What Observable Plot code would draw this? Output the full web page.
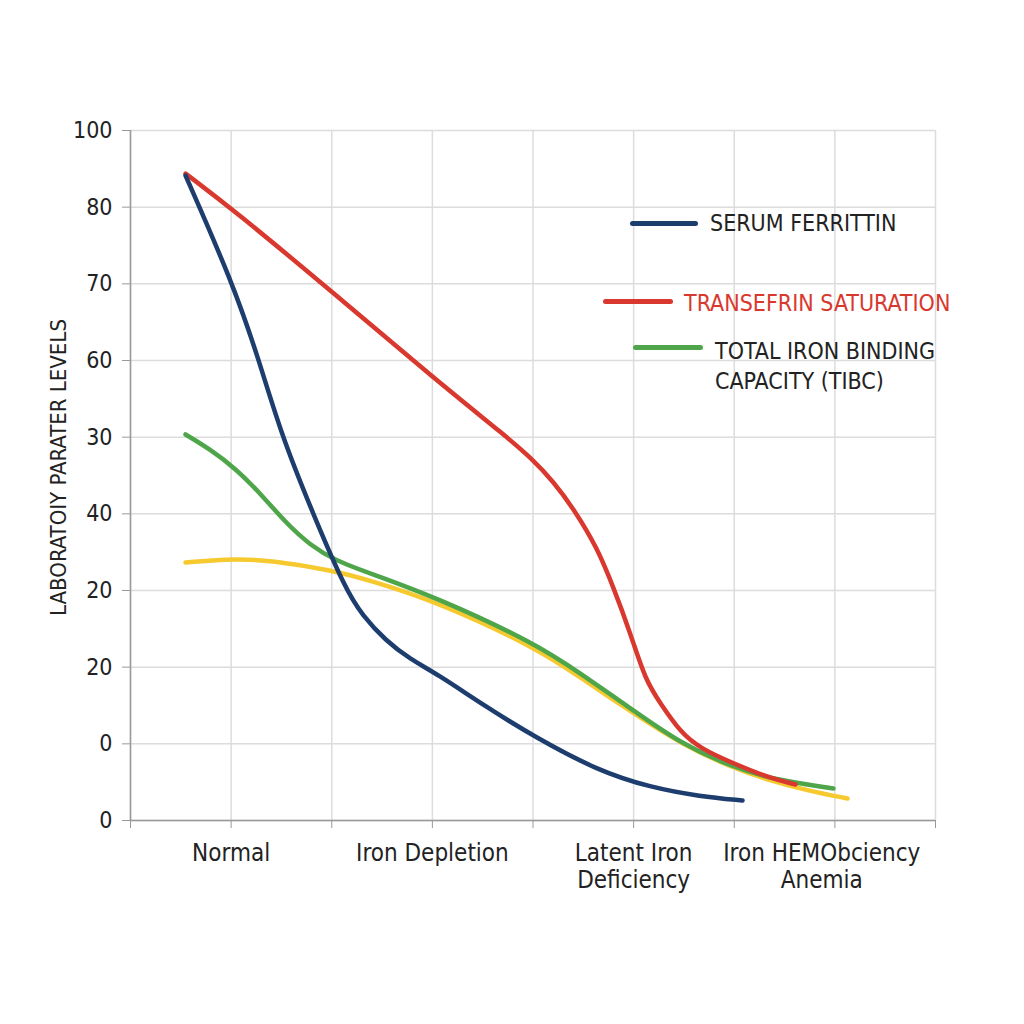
<!DOCTYPE html>
<html><head><meta charset="utf-8">
<script src="https://cdn.jsdelivr.net/npm/d3@7"></script>
<script src="https://cdn.jsdelivr.net/npm/@observablehq/plot@0.6"></script>
<style>
body{margin:0;background:#fff;}
#wrap{position:relative;width:1024px;height:1024px;font-family:"Liberation Sans Narrow","DejaVu Sans Condensed",sans-serif;color:#222;}
#wrap svg{position:absolute;left:0;top:0;}
.sw{position:absolute;height:5px;border-radius:3px;}
.lt{position:absolute;font-size:23px;line-height:30px;white-space:nowrap;}
</style></head><body><div id="wrap"></div>
<script>
// y tick labels (as printed, at evenly spaced positions 0..9)
const yTickLabels = ["0","0","20","20","40","30","60","70","80","100"];
const yTickPos = [0,1,2,3,4,5,6,7,8,9];
const xTickPos = [0,1,2,3,4,5,6,7,8];
const xCategories = ["Normal","Iron Depletion","Latent Iron\nDeficiency","Iron HEMObciency\nAnemia"];
const xCategoryPos = [1,3,5,6.87];

const seriesNames = ["SERUM FERRITTIN","TRANSEFRIN SATURATION","TOTAL IRON BINDING\nCAPACITY (TIBC)","(unlabeled)"];
const seriesColors = ["#1c3d6e","#d9382f","#4fa64a","#f6c92f"];

const ferritinX = [0.547,1.014,1.272,1.501,1.809,2.137,2.306,2.534,2.783,3.041,3.528,4.025,4.641,5.168,5.665,6.082];
const ferritinY = [8.413,7.017,6.026,5.022,4.017,3.013,2.674,2.348,2.100,1.917,1.487,1.083,0.652,0.430,0.313,0.261];

const saturationX = [0.547,1.043,1.988,3.041,3.747,3.975,4.204,4.422,4.641,4.800,4.969,5.118,5.267,5.466,5.665,5.993,6.360,6.609];
const saturationY = [8.439,7.944,6.913,5.739,4.996,4.735,4.422,4.030,3.548,3.039,2.439,1.826,1.526,1.148,0.939,0.743,0.548,0.470];

const tibcX = [0.547,0.795,1.043,1.292,1.540,1.789,2.037,2.385,3.041,4.025,4.472,4.999,5.466,5.993,6.390,6.986];
const tibcY = [5.035,4.839,4.591,4.265,3.887,3.587,3.391,3.222,2.909,2.309,1.917,1.435,1.004,0.691,0.535,0.417];

const yellowX = [0.547,1.043,1.391,2.017,2.385,3.041,4.025,4.472,4.999,5.466,5.993,6.390,6.728,7.125];
const yellowY = [3.365,3.417,3.391,3.261,3.130,2.857,2.257,1.865,1.396,1.004,0.678,0.509,0.391,0.287];

const rows = (xs, ys) => xs.map((x,i) => ({x, y: ys[i]}));
const seriesData = [rows(ferritinX,ferritinY), rows(saturationX,saturationY), rows(tibcX,tibcY), rows(yellowX,yellowY)];

const font = '"Liberation Sans Narrow","DejaVu Sans Condensed",sans-serif';
const lineOpts = (i) => ({x:"x", y:"y", stroke: seriesColors[i], strokeWidth: 4.5, curve: "basis", strokeLinecap: "round", strokeLinejoin: "round"});

const chart = Plot.plot({
  width: 1024, height: 1024,
  marginTop: 130, marginLeft: 130, marginRight: 89, marginBottom: 204,
  style: {fontFamily: font, background: "transparent", color: "#222"},
  x: {domain: [0, 8]},
  y: {domain: [0, 9]},
  marks: [
    Plot.gridY(yTickPos, {stroke: "#dcdcdc", strokeOpacity: 1, strokeWidth: 1.5}),
    Plot.gridX(xTickPos, {stroke: "#dcdcdc", strokeOpacity: 1, strokeWidth: 1.5}),
    Plot.ruleY([0], {stroke: "#999", strokeWidth: 1.5}),
    Plot.ruleX([0], {stroke: "#999", strokeWidth: 1.5}),
    Plot.axisY(yTickPos, {tickFormat: i => yTickLabels[i], tickSize: 8, tickPadding: 10, fontSize: 23, stroke: "#999",
      label: "LABORATOIY PARATER LEVELS", labelAnchor: "center", labelArrow: "none", labelOffset: 80}),
    Plot.axisX(xTickPos, {tickFormat: () => "", tickSize: 8, stroke: "#999", label: null}),
    Plot.text(xCategories, {x: (d,i) => xCategoryPos[i], y: () => 0, text: d => d, fontSize: 24, lineAnchor: "top", dy: 21, lineHeight: 1.13, fill: "#222"}),
    Plot.line(seriesData[3], lineOpts(3)),
    Plot.line(seriesData[2], lineOpts(2)),
    Plot.line(seriesData[1], lineOpts(1)),
    Plot.line(seriesData[0], lineOpts(0))
  ]
});
chart.querySelectorAll('[aria-label="y-axis label"] text').forEach(e => { e.setAttribute("font-size", "22"); e.setAttribute("dx", "8"); });
chart.querySelectorAll('[aria-label="y-axis label"]').forEach(e => e.setAttribute("font-size", "22"));
const wrap = document.getElementById("wrap");
wrap.appendChild(chart);

// legend overlay
const legend = [
  {i:0, sx:630, sw:68, sy:223, tx:710, ty:208, color:"#222"},
  {i:1, sx:603, sw:70, sy:301, tx:684, ty:288, color:seriesColors[1]},
  {i:2, sx:633, sw:70, sy:347, tx:715, ty:336, color:"#222"}
];
legend.forEach(l => {
  const s = document.createElement("div");
  s.className = "sw";
  s.style.cssText = `left:${l.sx}px;top:${l.sy-2.5}px;width:${l.sw}px;background:${seriesColors[l.i]}`;
  wrap.appendChild(s);
  const t = document.createElement("div");
  t.className = "lt";
  t.style.cssText = `left:${l.tx}px;top:${l.ty}px;color:${l.color}`;
  t.innerHTML = seriesNames[l.i].replace("\n","<br>");
  wrap.appendChild(t);
});
</script></body></html>
